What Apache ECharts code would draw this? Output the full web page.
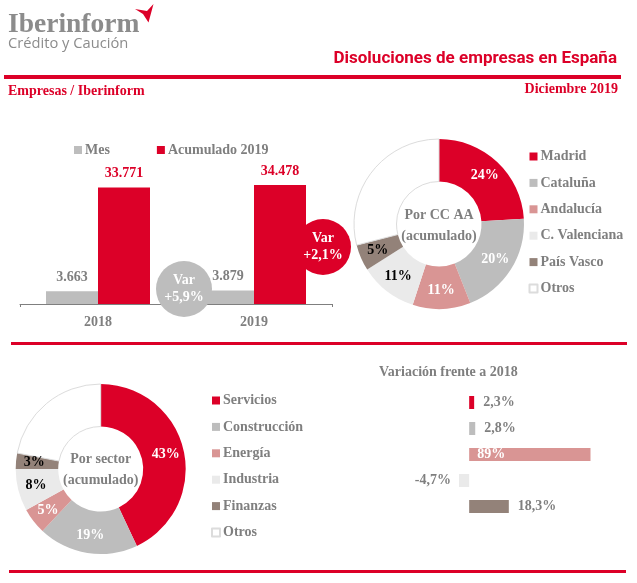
<!DOCTYPE html>
<html>
<head>
<meta charset="utf-8">
<style>
html, body { margin: 0; padding: 0; background: #fff; }
#main { width: 637px; height: 583px; }
</style>
<script src="https://cdn.jsdelivr.net/npm/echarts@6/dist/echarts.min.js"></script>
</head>
<body>
<div id="main"></div>
<script>
// barras mes / acumulado
var years = ['2018', '2019'];
var mesValues = [3663, 3879];
var acumValues = [33771, 34478];

// por comunidad
var ccaaNames = ['Madrid', 'Cataluña', 'Andalucía', 'C. Valenciana', 'País Vasco', 'Otros'];
var ccaaValues = [24, 20, 11, 11, 5, 29];

// por sector
var sectorNames = ['Servicios', 'Construcción', 'Energía', 'Industria', 'Finanzas', 'Otros'];
var sectorValues = [43, 19, 5, 8, 3, 22];
var sectorVar = [2.3, 2.8, 89, -4.7, 18.3];

var RED = '#dc0028';
var GREY = '#7f7f7f';
var colors = [RED, '#bdbdbd', '#d99594', '#eaeaea', '#938279', '#ffffff'];
var labelColors = ['#fff', '#fff', '#fff', '#000', '#000', 'transparent'];
var SERIF = '"Liberation Serif", serif';
var SANS = 'Roboto, "Open Sans", sans-serif';

function esNum(v) {
  return String(v).replace('.', ',');
}

function thousands(v) {
  return String(v).replace(/\B(?=(\d{3})+$)/g, '.');
}

function pieData(names, values) {
  return names.map(function (n, i) {
    var item = {
      name: n,
      value: values[i],
      itemStyle: { color: colors[i] },
      label: { color: labelColors[i] }
    };
    if (i === 5) {
      item.itemStyle.borderColor = '#dcdcdc';
      item.itemStyle.borderWidth = 1;
    }
    return item;
  });
}

function pieSeries(name, cx, cy, names, values) {
  return {
    name: name,
    type: 'pie',
    center: [cx, cy],
    radius: [42.5, 85],
    startAngle: 90,
    clockwise: true,
    animation: false,
    silent: true,
    label: {
      show: true,
      position: 'inside',
      formatter: '{c}%',
      fontFamily: SERIF,
      fontWeight: 'bold',
      fontSize: 14
    },
    labelLine: { show: false },
    data: pieData(names, values)
  };
}

function sideLegend(names, left, top) {
  return {
    orient: 'vertical',
    left: left,
    top: top,
    data: names,
    icon: 'rect',
    itemWidth: 8,
    itemHeight: 8,
    itemGap: 11.4,
    selectedMode: false,
    textStyle: { color: GREY, fontFamily: SERIF, fontWeight: 'bold', fontSize: 14, lineHeight: 15, padding: [0, 0, 0, -2] }
  };
}

function centerText(text, x, y) {
  return {
    type: 'text',
    z: 20,
    style: {
      x: x,
      y: y,
      text: text,
      fill: GREY,
      font: 'bold 14px ' + SERIF,
      textAlign: 'center',
      textVerticalAlign: 'middle',
      lineHeight: 21
    }
  };
}

function rule(x1, x2, y, h) {
  return { type: 'rect', z: 1, shape: { x: x1, y: y, width: x2 - x1, height: h }, style: { fill: RED } };
}

function varBubble(x, y, color, text) {
  return [
    { type: 'circle', z: 5, shape: { cx: x, cy: y, r: 28 }, style: { fill: color } },
    {
      type: 'text',
      z: 20,
      style: {
        x: x,
        y: y,
        text: text,
        fill: '#fff',
        font: 'bold 14px ' + SERIF,
        textAlign: 'center',
        textVerticalAlign: 'middle',
        lineHeight: 17
      }
    }
  ];
}

var chart = echarts.init(document.getElementById('main'), null, { renderer: 'canvas' });

var option = {
  animation: false,
  backgroundColor: '#fff',
  title: [
    {
      text: 'Disoluciones de empresas en España',
      right: 20,
      top: 50,
      padding: 0,
      textStyle: { color: RED, fontFamily: SANS, fontWeight: 'bold', fontSize: 17 }
    },
    {
      text: 'Empresas / Iberinform',
      left: 8,
      top: 84,
      padding: 0,
      textStyle: { color: RED, fontFamily: SERIF, fontWeight: 'bold', fontSize: 14 }
    },
    {
      text: 'Diciembre 2019',
      right: 19,
      top: 82,
      padding: 0,
      textStyle: { color: RED, fontFamily: SERIF, fontWeight: 'bold', fontSize: 14 }
    },
    {
      text: 'Variación frente a 2018',
      left: 379,
      top: 365,
      padding: 0,
      textStyle: { color: GREY, fontFamily: SERIF, fontWeight: 'bold', fontSize: 14 }
    }
  ],
  legend: [
    {
      left: 69,
      top: 138,
      data: ['Mes', 'Acumulado 2019'],
      icon: 'rect',
      itemWidth: 8,
      itemHeight: 8,
      itemGap: 47,
      selectedMode: false,
      textStyle: { color: GREY, fontFamily: SERIF, fontWeight: 'bold', fontSize: 14, padding: [0, 0, 0, -2] }
    },
    sideLegend(ccaaNames, 523.5, 144),
    sideLegend(sectorNames, 206, 388)
  ],
  grid: [
    { left: 20, top: 166, width: 312, height: 138 },
    { left: 447.5, top: 389.5, width: 143, height: 130 }
  ],
  xAxis: [
    {
      type: 'category',
      gridIndex: 0,
      data: years,
      axisLine: { lineStyle: { color: GREY, width: 1 } },
      axisTick: { show: true, length: 3, inside: false, lineStyle: { color: GREY } },
      axisLabel: { color: GREY, fontFamily: SERIF, fontWeight: 'bold', fontSize: 14, margin: 11 }
    },
    { type: 'value', gridIndex: 1, min: -10, max: 56, show: false }
  ],
  yAxis: [
    { type: 'value', gridIndex: 0, min: 0, max: 40000, show: false },
    { type: 'category', gridIndex: 1, inverse: true, data: sectorNames.slice(0, 5), show: false }
  ],
  series: [
    {
      name: 'Mes',
      type: 'bar',
      xAxisIndex: 0,
      yAxisIndex: 0,
      barWidth: 52,
      barGap: 0,
      itemStyle: { color: '#bdbdbd' },
      label: {
        show: true,
        position: 'top',
        distance: 7,
        color: GREY,
        fontFamily: SERIF,
        fontWeight: 'bold',
        fontSize: 14,
        formatter: function (p) { return thousands(p.value); }
      },
      z: 10,
      data: mesValues
    },
    {
      name: 'Acumulado 2019',
      type: 'bar',
      xAxisIndex: 0,
      yAxisIndex: 0,
      barWidth: 52,
      barGap: 0,
      itemStyle: { color: RED },
      label: {
        show: true,
        position: 'top',
        distance: 7,
        color: RED,
        fontFamily: SERIF,
        fontWeight: 'bold',
        fontSize: 14,
        formatter: function (p) { return thousands(p.value); }
      },
      z: 10,
      data: acumValues
    },
    pieSeries('Por CC AA', 439, 224, ccaaNames, ccaaValues),
    pieSeries('Por sector', 100.7, 469, sectorNames, sectorValues),
    {
      name: 'Variación frente a 2018',
      type: 'bar',
      xAxisIndex: 1,
      yAxisIndex: 1,
      barWidth: 13,
      clip: true,
      label: {
        show: true,
        position: 'right',
        distance: 9,
        color: GREY,
        fontFamily: SERIF,
        fontWeight: 'bold',
        fontSize: 14,
        formatter: function (p) { return esNum(p.value) + '%'; }
      },
      data: sectorVar.map(function (v, i) {
        var item = { value: v, itemStyle: { color: colors[i] } };
        if (v < 0) item.label = { position: 'left', distance: 8 };
        if (v > 56) item.label = { position: 'insideLeft', distance: 8, color: '#fff' };
        return item;
      })
    }
  ],
  graphic: [
    rule(4, 621, 75, 4),
    rule(11, 627, 342, 3),
    rule(9, 626, 570, 3),
    // logo
    {
      type: 'text',
      style: { x: 8, y: 11, text: 'Iberinform', fill: '#8c8c8c', font: 'bold 27.5px "Liberation Serif", serif' }
    },
    {
      type: 'text',
      style: { x: 8, y: 36, text: 'Crédito y Caución', fill: '#8c8c8c', font: '14.7px "Open Sans", "Noto Sans", sans-serif' }
    },
    {
      type: 'polygon',
      shape: { points: [[135, 9], [147, 11], [153.5, 4], [148.5, 22.5], [143, 14]] },
      style: { fill: RED }
    },
    centerText('Por CC AA\n(acumulado)', 439, 226),
    centerText('Por sector\n(acumulado)', 100.7, 470)
  ].concat(varBubble(184, 289, '#bdbdbd', 'Var\n+5,9%'), varBubble(323, 247, RED, 'Var\n+2,1%'))
};

chart.setOption(option);
</script>
</body>
</html>
